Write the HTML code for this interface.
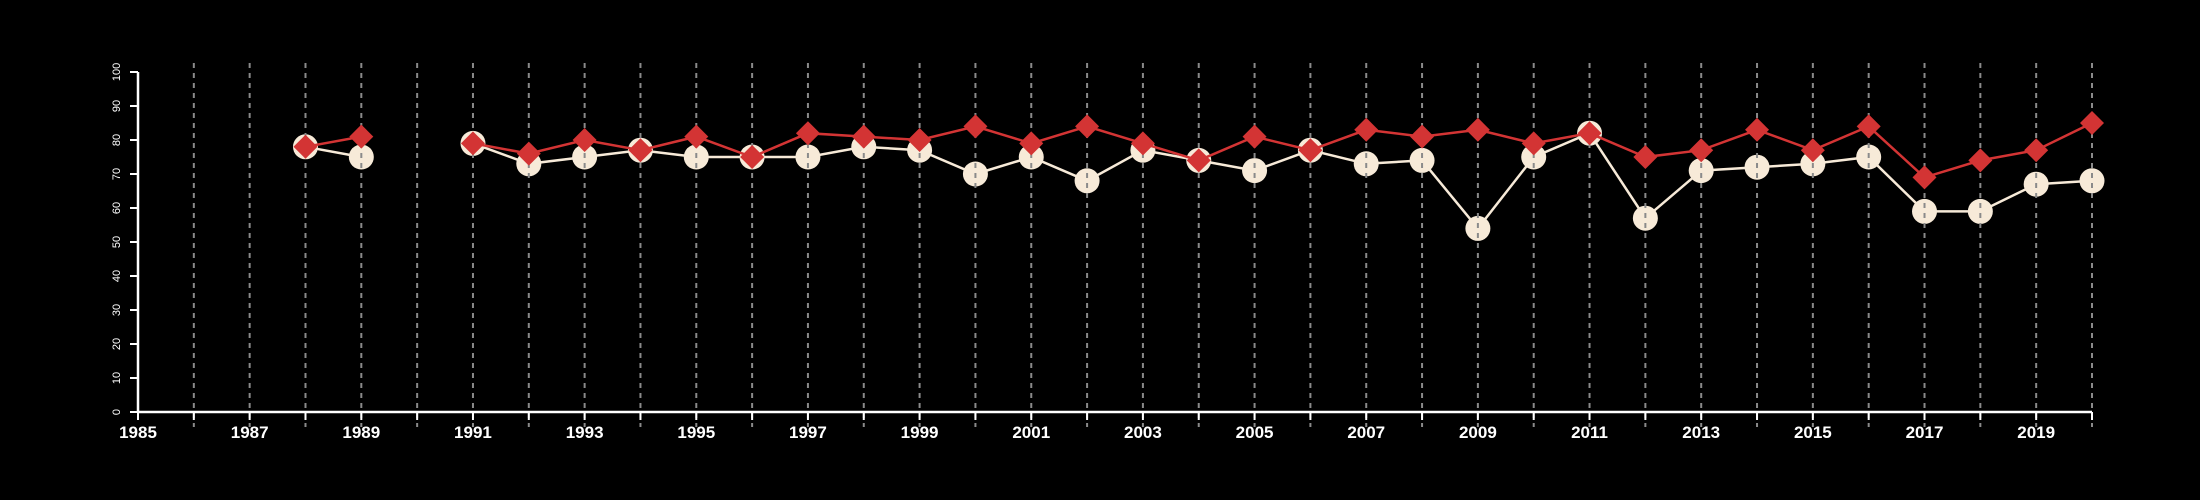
<!DOCTYPE html>
<html><head><meta charset="utf-8"><style>
html,body{margin:0;padding:0;background:#000;}
svg{display:block;}
</style></head><body>
<svg id="chart" width="2200" height="500" xmlns="http://www.w3.org/2000/svg">
<rect width="2200" height="500" fill="#000"/>
<g id="gWhite"></g>
<g id="gGrid"></g>
<g id="gRed"></g>
<g id="gAxes"></g>
</svg>
<script>
const years = [1988,1989,1990,1991,1992,1993,1994,1995,1996,1997,1998,1999,2000,2001,2002,2003,2004,2005,2006,2007,2008,2009,2010,2011,2012,2013,2014,2015,2016,2017,2018,2019,2020];
const whiteValues = [78,75,null,79,73,75,77,75,75,75,78,77,70,75,68,77,74,71,77,73,74,54,75,82,57,71,72,73,75,59,59,67,68];
const redValues = [78,81,null,79,76,80,77,81,75,82,81,80,84,79,84,79,74,81,77,83,81,83,79,82,75,77,83,77,84,69,74,77,85];
const yTicks = [0,10,20,30,40,50,60,70,80,90,100];
const xTickLabels = [1985,1987,1989,1991,1993,1995,1997,1999,2001,2003,2005,2007,2009,2011,2013,2015,2017,2019];

const NS="http://www.w3.org/2000/svg";
const X0=138, X1=2092, XMIN=1985, XMAX=2020, Y0=412, Y1=72;
const xs=v=>X0+(v-XMIN)/(XMAX-XMIN)*(X1-X0);
const ys=v=>Y0-v/100*(Y0-Y1);
function mk(tag,attrs,parent){const e=document.createElementNS(NS,tag);for(const k in attrs)e.setAttribute(k,attrs[k]);parent.appendChild(e);return e;}

function drawSeries(vals,g,color,marker,name){
  let segs=[],cur=[];
  vals.forEach((v,i)=>{if(v==null){if(cur.length)segs.push(cur);cur=[];}else cur.push([xs(years[i]),ys(v)]);});
  if(cur.length)segs.push(cur);
  segs.forEach(s=>{
    const p=mk('polyline',{points:s.map(q=>q.join(',')).join(' '),fill:'none',stroke:color,'stroke-width':2.5},g);
    
    
  });
  vals.forEach((v,i)=>{
    if(v==null)return;
    const cx=xs(years[i]),cy=ys(v);let m;
    if(marker==='circle') m=mk('circle',{cx:cx,cy:cy,r:12.5,fill:'#f7ead8'},g);
    else m=mk('polygon',{points:`${cx},${cy-12} ${cx+12},${cy} ${cx},${cy+12} ${cx-12},${cy}`,fill:'#d33434'},g);
    
    
  });
}
drawSeries(whiteValues,document.getElementById('gWhite'),'#f7ead8','circle','white');

const gg=document.getElementById('gGrid');
for(let y=1986;y<=2020;y++){
  const l=mk('line',{x1:xs(y),x2:xs(y),y1:63,y2:427,stroke:'#8a8a8a','stroke-width':2,'stroke-dasharray':'5,5'},gg);
  
  
}
drawSeries(redValues,document.getElementById('gRed'),'#d33434','diamond','red');

const ga=document.getElementById('gAxes');
let a=mk('line',{x1:X0,x2:X1,y1:Y0,y2:Y0,stroke:'#fff','stroke-width':2.5},ga);

a=mk('line',{x1:X0,x2:X0,y1:Y0,y2:Y1,stroke:'#fff','stroke-width':2.5},ga);

for(let y=1985;y<=2020;y++){
  const t=mk('line',{x1:xs(y),x2:xs(y),y1:Y0,y2:Y0+8,stroke:'#fff','stroke-width':2},ga);
  
}
xTickLabels.forEach(y=>{
  const t=mk('text',{x:xs(y),y:438,'text-anchor':'middle',fill:'#fff','font-family':'Liberation Sans, sans-serif','font-size':17,'font-weight':'bold'},ga);
  t.textContent=y;
  
});
yTicks.forEach(v=>{
  const t=mk('line',{x1:X0-8,x2:X0,y1:ys(v),y2:ys(v),stroke:'#fff','stroke-width':2},ga);
  
  const tx=mk('text',{x:0,y:0,transform:`translate(120,${ys(v)}) rotate(-90)`,'text-anchor':'middle',fill:'#fff','font-family':'Liberation Sans, sans-serif','font-size':11},ga);
  tx.textContent=v;
  
});
</script>
</body></html>
